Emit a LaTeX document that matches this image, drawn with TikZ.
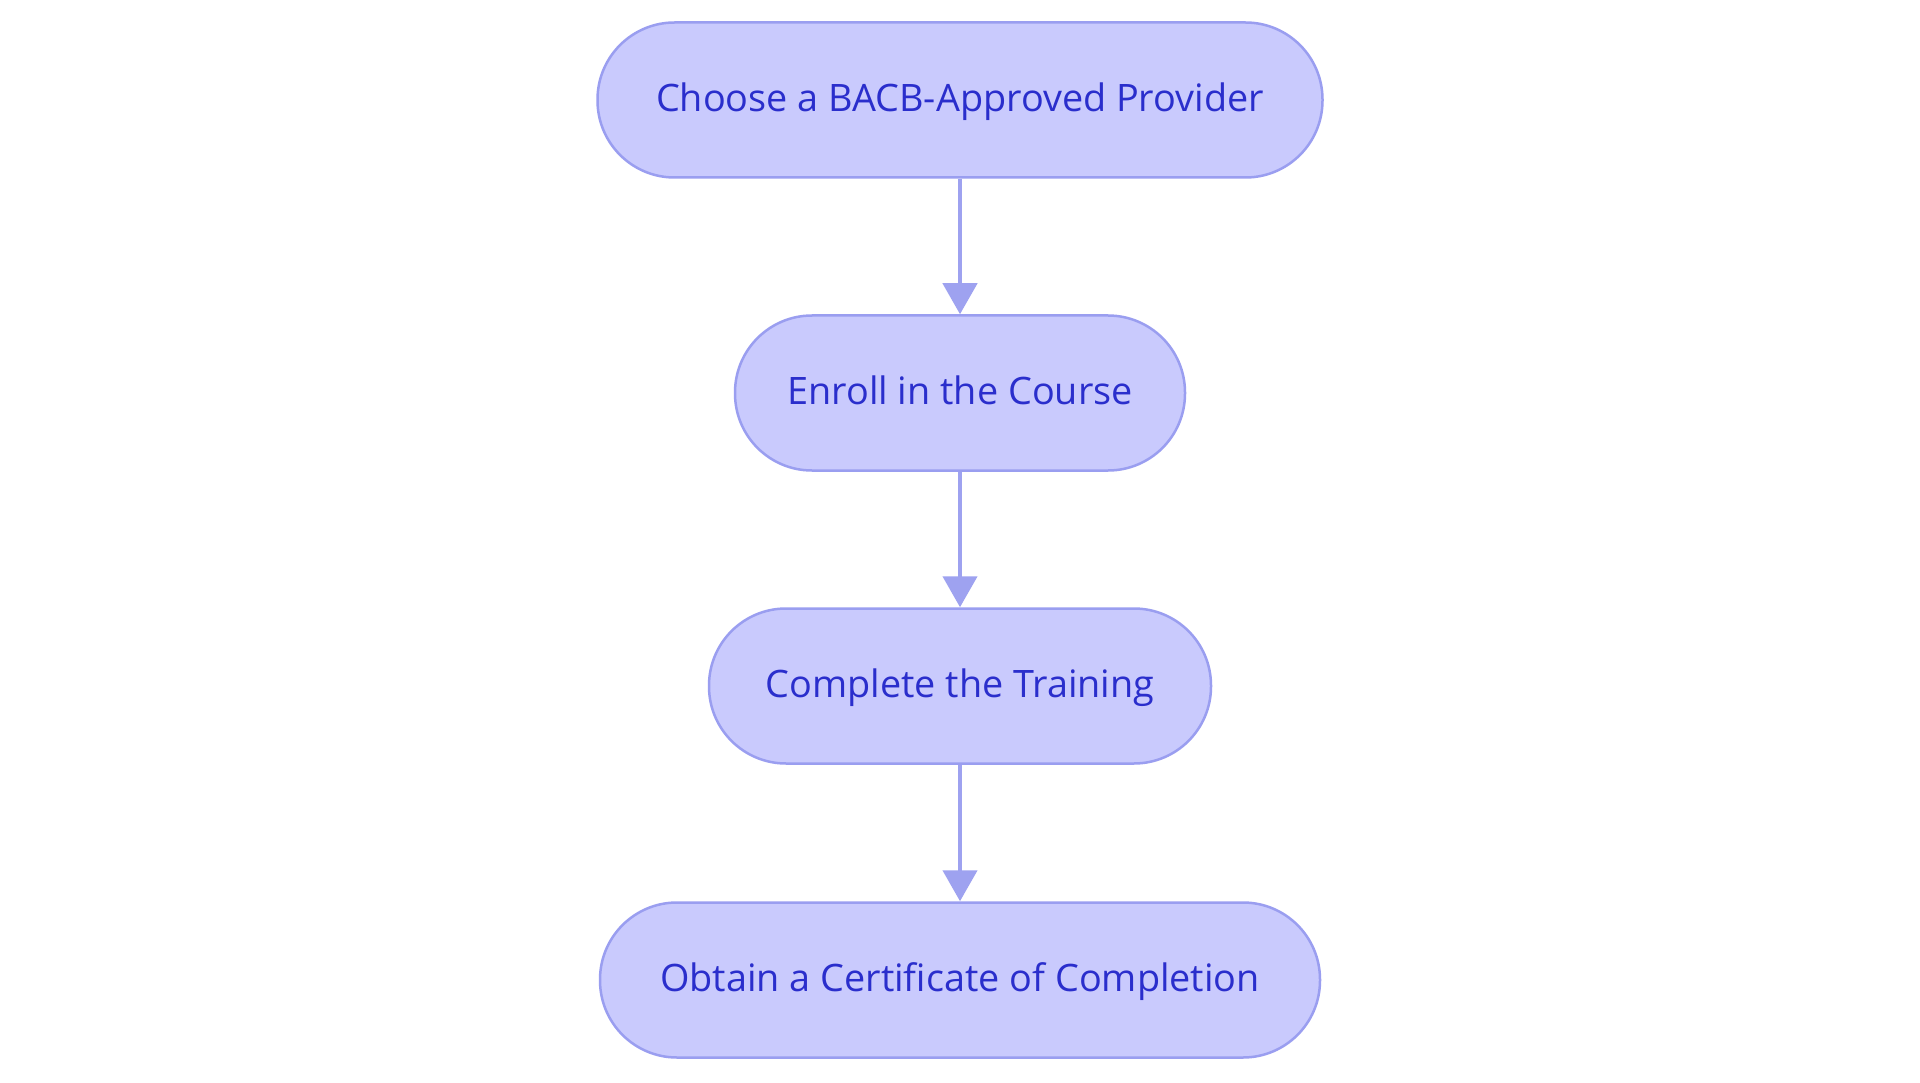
\documentclass[tikz,border=0pt]{standalone}
\usepackage{fontspec}
\setmainfont{Open Sans}
\usetikzlibrary{arrows.meta}
\definecolor{boxfill}{HTML}{C9CAFD}
\definecolor{boxline}{HTML}{9A9EF0}
\definecolor{txt}{HTML}{2A2ECC}
\definecolor{arr}{HTML}{9EA2F0}
\tikzset{
  stepbox/.style={draw=boxline, fill=boxfill, line width=2.5pt, rounded corners=77pt,
    minimum height=155pt, text=txt, font=\fontsize{37.8}{44}\selectfont, inner sep=0pt,
    text height=32pt, text depth=9pt},
  flow/.style={draw=arr, line width=4.5pt, -{Triangle[width=34pt,length=31pt]}}
}
\begin{document}
\begin{tikzpicture}[x=1pt,y=-1pt]
\useasboundingbox (0,0) rectangle (1920,1083);
\fill[white] (0,0) rectangle (1920,1083);
\node[stepbox, minimum width=725pt] (a) at (960,100) {Choose a BACB-Approved Provider};
\node[stepbox, minimum width=450pt] (b) at (960,393) {Enroll in the Course};
\node[stepbox, minimum width=502pt] (c) at (960,686) {Complete the Training};
\node[stepbox, minimum width=720pt] (d) at (960,980) {Obtain a Certificate of Completion};
\draw[flow] (a) -- (b);
\draw[flow] (b) -- (c);
\draw[flow] (c) -- (d);
\end{tikzpicture}
\end{document}
